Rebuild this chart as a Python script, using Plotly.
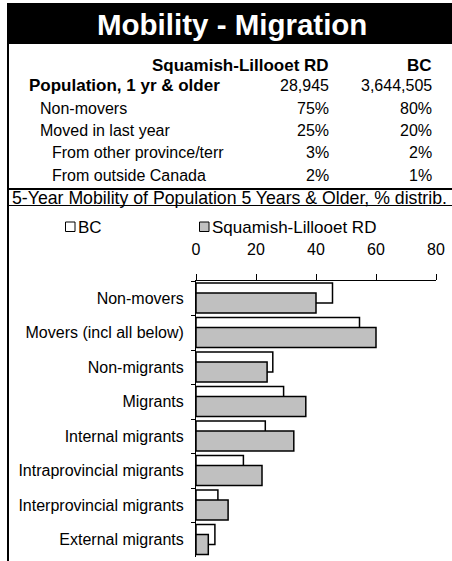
import plotly.graph_objects as go

# ---------------- data ----------------
categories = ["Non-movers", "Movers (incl all below)", "Non-migrants", "Migrants",
              "Internal migrants", "Intraprovincial migrants",
              "Interprovincial migrants", "External migrants"]
bc_values = [45.5, 54.5, 25.6, 29.2, 23.1, 15.8, 7.3, 6.3]
slrd_values = [40.0, 60.0, 23.7, 36.6, 32.6, 22.0, 10.7, 4.1]

x_ticks = [0, 20, 40, 60, 80]

table_header = ["Squamish-Lillooet RD", "BC"]
table_rows = ["Population, 1 yr & older", "Non-movers", "Moved in last year",
              "From other province/terr", "From outside Canada"]
table_slrd = ["28,945", "75%", "25%", "3%", "2%"]
table_bc = ["3,644,505", "80%", "20%", "2%", "1%"]

title_text = "Mobility - Migration"
subtitle_text = "5-Year Mobility of Population 5 Years & Older, % distrib."
series_names = ["BC", "Squamish-Lillooet RD"]

# ---------------- layout helpers ----------------
W, H = 452, 561
ML, MR, MT, MB = 196, 16, 281, 4
PW, PH = W - ML - MR, H - MT - MB
FONT = "Liberation Sans, Arial, sans-serif"


def px(x):
    return (x - ML) / PW


def py(y):
    return 1 - (y - MT) / PH


fig = go.Figure()
fig.add_trace(go.Bar(
    y=categories, x=bc_values, orientation="h", name=series_names[0],
    marker=dict(color="white", line=dict(color="black", width=1.5)),
    offset=-0.44, width=0.58, showlegend=False))
fig.add_trace(go.Bar(
    y=categories, x=slrd_values, orientation="h", name=series_names[1],
    marker=dict(color="#c0c0c0", line=dict(color="black", width=1.5)),
    offset=-0.15, width=0.58, showlegend=False))

shapes = []
annotations = []

# title bar
shapes.append(dict(type="rect", xref="paper", yref="paper",
                   x0=px(7), x1=px(452), y0=py(3), y1=py(44),
                   fillcolor="black", line=dict(width=0), layer="below"))
annotations.append(dict(text="<b>" + title_text + "</b>", xref="paper", yref="paper",
                        x=px(232), y=py(25), xanchor="center", yanchor="middle",
                        showarrow=False, font=dict(size=29.5, color="white", family=FONT)))
# borders
shapes.append(dict(type="line", xref="paper", yref="paper",
                   x0=px(8), x1=px(8), y0=py(44), y1=py(561),
                   line=dict(color="black", width=2)))
shapes.append(dict(type="line", xref="paper", yref="paper",
                   x0=px(7), x1=px(452), y0=py(189), y1=py(189),
                   line=dict(color="black", width=2)))
shapes.append(dict(type="line", xref="paper", yref="paper",
                   x0=px(7), x1=px(452), y0=py(205.5), y1=py(205.5),
                   line=dict(color="black", width=1)))

# table
annotations.append(dict(text="<b>" + table_header[0] + "</b>", xref="paper", yref="paper",
                        x=px(331), y=py(65), xanchor="right", yanchor="middle",
                        showarrow=False, font=dict(size=17, color="black", family=FONT)))
annotations.append(dict(text="<b>" + table_header[1] + "</b>", xref="paper", yref="paper",
                        x=px(434), y=py(65), xanchor="right", yanchor="middle",
                        showarrow=False, font=dict(size=17, color="black", family=FONT)))
row_y = [85, 109, 130, 153, 176]
row_x = [27, 38, 38, 50, 50]
for i, lab in enumerate(table_rows):
    t = "<b>" + lab + "</b>" if i == 0 else lab
    annotations.append(dict(text=t, xref="paper", yref="paper",
                            x=px(row_x[i]), y=py(row_y[i]), xanchor="left", yanchor="middle",
                            showarrow=False,
                            font=dict(size=17 if i == 0 else 16, color="black", family=FONT)))
    annotations.append(dict(text=table_slrd[i], xref="paper", yref="paper",
                            x=px(331), y=py(row_y[i]), xanchor="right", yanchor="middle",
                            showarrow=False, font=dict(size=16, color="black", family=FONT)))
    annotations.append(dict(text=table_bc[i], xref="paper", yref="paper",
                            x=px(434), y=py(row_y[i]), xanchor="right", yanchor="middle",
                            showarrow=False, font=dict(size=16, color="black", family=FONT)))

# subtitle
annotations.append(dict(text=subtitle_text, xref="paper", yref="paper",
                        x=px(229), y=py(198), xanchor="center", yanchor="middle",
                        showarrow=False, font=dict(size=17.7, color="black", family=FONT)))

# legend (manual)
shapes.append(dict(type="rect", xref="paper", yref="paper",
                   x0=px(65.5), x1=px(75), y0=py(222), y1=py(231.5),
                   fillcolor="white", line=dict(color="black", width=1)))
annotations.append(dict(text=series_names[0], xref="paper", yref="paper",
                        x=px(76), y=py(227), xanchor="left", yanchor="middle",
                        showarrow=False, font=dict(size=17, color="black", family=FONT)))
shapes.append(dict(type="rect", xref="paper", yref="paper",
                   x0=px(199.5), x1=px(209), y0=py(222), y1=py(231.5),
                   fillcolor="#c0c0c0", line=dict(color="black", width=1)))
annotations.append(dict(text=series_names[1], xref="paper", yref="paper",
                        x=px(210), y=py(227), xanchor="left", yanchor="middle",
                        showarrow=False, font=dict(size=17, color="black", family=FONT)))

fig.update_layout(
    width=W, height=H, margin=dict(l=ML, r=MR, t=MT, b=MB, pad=0, autoexpand=False),
    paper_bgcolor="white", plot_bgcolor="white",
    barmode="overlay", showlegend=False,
    font=dict(family=FONT, size=16, color="black"),
    shapes=shapes, annotations=annotations,
    xaxis=dict(side="top", range=[0, 80], tickvals=x_ticks, ticks="outside",
               ticklen=6, tickcolor="black", showline=True, linecolor="black",
               linewidth=1, showgrid=False, zeroline=False, automargin=False,
               tickfont=dict(size=16, family=FONT), ticklabelstandoff=13),
    yaxis=dict(type="category", categoryorder="array", categoryarray=categories,
               autorange="reversed", ticks="outside", ticklen=4, tickcolor="black",
               tickson="boundaries", showline=True, linecolor="black", linewidth=1,
               showgrid=False, zeroline=False, automargin=False,
               tickfont=dict(size=16, family=FONT), ticklabelstandoff=8),
)

fig.write_html("out.html", config={"displayModeBar": False},
               post_script="document.body.style.margin='0';document.body.style.overflow='hidden';")
